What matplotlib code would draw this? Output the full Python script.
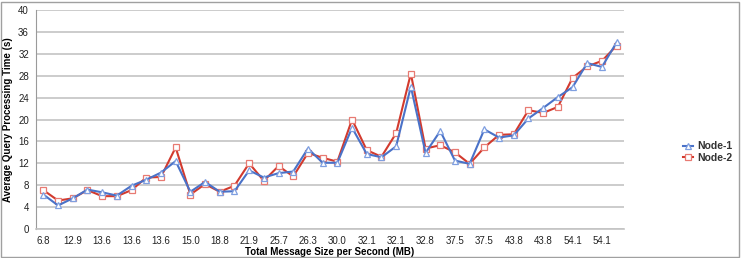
import numpy as np
import matplotlib.pyplot as plt
from matplotlib.patches import Rectangle

plt.rcParams['font.family'] = ['Liberation Sans', 'DejaVu Sans']

# x tick labels (one per two points)
tick_labels = ['6.8', '12.9', '13.6', '13.6', '13.6', '15.0', '18.8', '21.9', '25.7', '26.3',
               '30.0', '32.1', '32.1', '32.8', '37.5', '37.5', '43.8', '43.8', '54.1', '54.1']

node1 = [6.3, 4.3, 5.6, 7.2, 6.7, 6.1, 7.9, 9.0, 10.3, 12.4,
         6.8, 8.6, 6.8, 6.9, 10.7, 9.4, 10.2, 10.5, 14.7, 12.1,
         12.1, 18.5, 13.7, 13.1, 15.1, 26.0, 13.9, 17.9, 12.5, 11.9,
         18.2, 16.7, 17.1, 20.2, 22.1, 24.1, 25.9, 30.3, 29.6, 34.1]

node2 = [7.1, 5.2, 5.6, 7.1, 6.0, 6.0, 7.1, 9.4, 9.5, 14.9,
         6.3, 8.2, 6.8, 7.9, 12.0, 8.8, 11.5, 9.6, 13.9, 13.0,
         12.3, 20.0, 14.4, 13.2, 17.5, 28.4, 14.7, 15.3, 14.0, 11.9,
         14.9, 17.2, 17.3, 21.7, 21.2, 22.3, 27.6, 29.7, 30.7, 33.5]

x = np.arange(len(node1))

fig = plt.figure(figsize=(7.41, 2.58), dpi=100)
ax = fig.add_axes([36/741, 29/258, 588/741, 219/258])

ax.plot(x, node2, color='#d23a2e', linewidth=1.5, marker='s', markersize=5,
        markerfacecolor='white', markeredgecolor='#e87a72', markeredgewidth=0.9,
        label='Node-2', zorder=3)
ax.plot(x, node1, color='#4a72c8', linewidth=1.5, marker='^', markersize=5,
        markerfacecolor='white', markeredgecolor='#7f9fe0', markeredgewidth=0.9,
        label='Node-1', zorder=4)

ax.set_xlim(-0.5, len(x) - 0.5)
ax.set_ylim(0, 40)
ax.set_yticks(np.arange(0, 41, 4))
ax.set_xticks(x[::2])
ax.set_xticklabels(tick_labels)
ax.tick_params(axis='both', length=0, labelsize=7, labelcolor='#222222', pad=5)

ax.grid(axis='y', color='#c4c4c4', linewidth=1.2)
ax.set_axisbelow(True)
for s in ['top', 'right']:
    ax.spines[s].set_visible(False)
ax.spines['left'].set_color('#9a9a9a')
ax.spines['bottom'].set_color('#c4c4c4')
ax.spines['bottom'].set_linewidth(1.2)

ax.set_xlabel('Total Message Size per Second (MB)', fontsize=7, fontweight='bold', labelpad=1)
ax.set_ylabel('Average Query Processing Time (s)', fontsize=7, fontweight='bold', labelpad=4)

# legend with Node-1 first
h, l = ax.get_legend_handles_labels()
fig.legend(h[::-1], l[::-1], loc='center left', bbox_to_anchor=(683/741, 106/258),
           frameon=False, prop={'weight': 'bold', 'size': 7.5},
           handlelength=1.0, handletextpad=0.4, labelspacing=0.15, labelcolor='#333333',
           borderpad=0, borderaxespad=0)

# thin border around the whole picture
fig.patches.append(Rectangle((0.002, 0.004), 0.995, 0.99, transform=fig.transFigure,
                             fill=False, edgecolor='#a0a0a0', linewidth=1))

plt.savefig('out.png', dpi=100)
